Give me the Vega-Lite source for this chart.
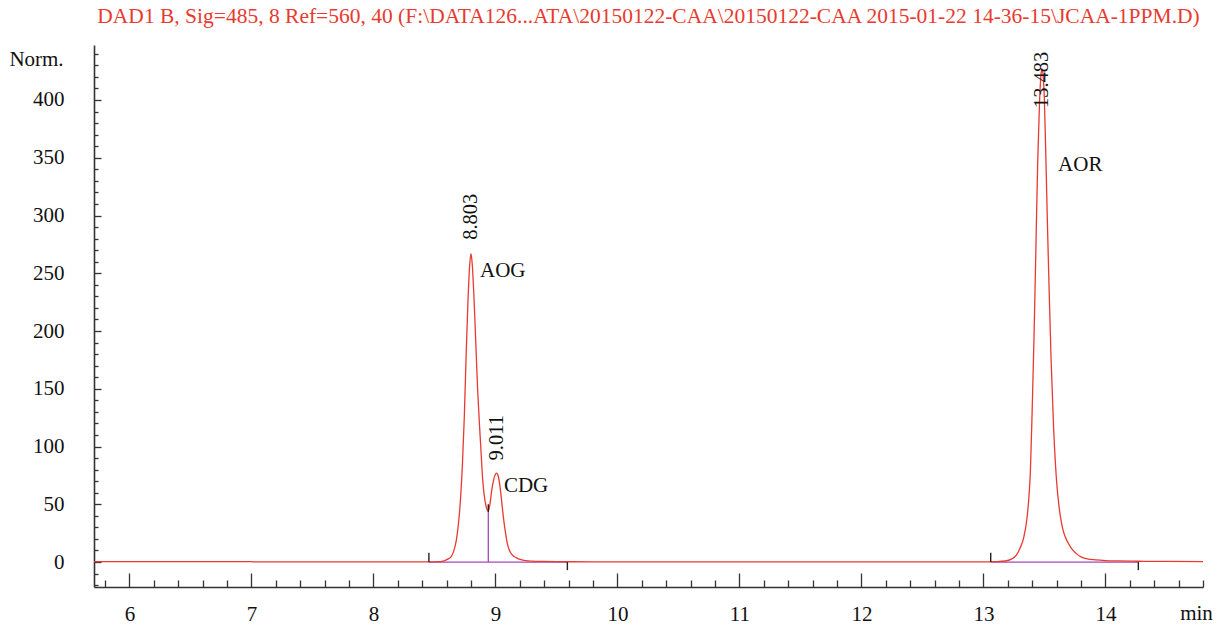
{
  "$schema": "https://vega.github.io/schema/vega-lite/v6.json",
  "width": 1109,
  "height": 542,
  "autosize": {"type": "none"},
  "padding": {"left": 94, "top": 45, "right": 17, "bottom": 39},
  "background": "white",
  "config": {
    "view": {"stroke": null},
    "font": "Liberation Serif",
    "axis": {"labelFont": "Liberation Serif", "titleFont": "Liberation Serif"},
    "text": {"font": "Liberation Serif"}
  },
  "title": {
    "text": "DAD1 B, Sig=485, 8 Ref=560, 40 (F:\\DATA126...ATA\\20150122-CAA\\20150122-CAA 2015-01-22 14-36-15\\JCAA-1PPM.D)",
    "color": "#e83a30",
    "font": "Liberation Serif",
    "fontSize": 21.5,
    "fontWeight": "normal",
    "anchor": "middle",
    "offset": 15
  },
  "datasets": {
    "trace": [
      {"t": 5.71, "v": 0.3}, {"t": 6.5, "v": 0.3}, {"t": 7.0, "v": 0.3}, {"t": 7.02, "v": 0.1},
      {"t": 8.0, "v": 0.1}, {"t": 8.45, "v": 0.1}, {"t": 8.55, "v": 0.4}, {"t": 8.61, "v": 2.5},
      {"t": 8.64, "v": 5}, {"t": 8.657, "v": 9}, {"t": 8.68, "v": 19}, {"t": 8.7, "v": 36},
      {"t": 8.715, "v": 56}, {"t": 8.73, "v": 85}, {"t": 8.745, "v": 125}, {"t": 8.76, "v": 178},
      {"t": 8.775, "v": 225}, {"t": 8.79, "v": 258}, {"t": 8.8, "v": 267}, {"t": 8.81, "v": 258},
      {"t": 8.825, "v": 228}, {"t": 8.84, "v": 188}, {"t": 8.855, "v": 148}, {"t": 8.87, "v": 118},
      {"t": 8.88, "v": 100}, {"t": 8.89, "v": 81}, {"t": 8.9, "v": 66}, {"t": 8.915, "v": 53},
      {"t": 8.93, "v": 46}, {"t": 8.942, "v": 44}, {"t": 8.955, "v": 50}, {"t": 8.97, "v": 62},
      {"t": 8.985, "v": 71}, {"t": 9.0, "v": 76}, {"t": 9.011, "v": 77}, {"t": 9.02, "v": 75.5},
      {"t": 9.03, "v": 71}, {"t": 9.045, "v": 59}, {"t": 9.056, "v": 48}, {"t": 9.07, "v": 35},
      {"t": 9.085, "v": 24}, {"t": 9.1, "v": 15}, {"t": 9.12, "v": 9}, {"t": 9.145, "v": 5.5},
      {"t": 9.17, "v": 3.8}, {"t": 9.21, "v": 2}, {"t": 9.25, "v": 1.2}, {"t": 9.3, "v": 0.8},
      {"t": 9.4, "v": 0.5}, {"t": 9.5, "v": 0.35}, {"t": 9.6, "v": 0.25}, {"t": 10.0, "v": 0.2},
      {"t": 11.0, "v": 0.2}, {"t": 12.0, "v": 0.2}, {"t": 13.0, "v": 0.2}, {"t": 13.1, "v": 0.4},
      {"t": 13.18, "v": 0.9}, {"t": 13.23, "v": 2.5}, {"t": 13.27, "v": 6}, {"t": 13.3, "v": 12},
      {"t": 13.33, "v": 21}, {"t": 13.355, "v": 36}, {"t": 13.37, "v": 52}, {"t": 13.385, "v": 78},
      {"t": 13.4, "v": 132}, {"t": 13.415, "v": 195}, {"t": 13.43, "v": 270}, {"t": 13.445, "v": 346},
      {"t": 13.46, "v": 398}, {"t": 13.472, "v": 422}, {"t": 13.48, "v": 427}, {"t": 13.488, "v": 423},
      {"t": 13.5, "v": 400}, {"t": 13.513, "v": 346}, {"t": 13.525, "v": 292}, {"t": 13.54, "v": 231},
      {"t": 13.555, "v": 175}, {"t": 13.576, "v": 115}, {"t": 13.6, "v": 70}, {"t": 13.62, "v": 48},
      {"t": 13.64, "v": 34}, {"t": 13.66, "v": 25}, {"t": 13.69, "v": 17.5}, {"t": 13.72, "v": 12},
      {"t": 13.76, "v": 7.5}, {"t": 13.8, "v": 4.5}, {"t": 13.85, "v": 2.8}, {"t": 13.92, "v": 1.9},
      {"t": 14.0, "v": 1.3}, {"t": 14.1, "v": 1.0}, {"t": 14.27, "v": 0.7}, {"t": 14.5, "v": 0.5},
      {"t": 14.8, "v": 0.4}
    ],
    "baselines": [
      {"t": 8.455, "t2": 9.59, "v": 0},
      {"t": 13.06, "t2": 14.27, "v": 0}
    ],
    "drops": [
      {"t": 8.942, "v": 0, "v2": 43}
    ],
    "events": [
      {"t": 8.455, "v": 0, "v2": 8},
      {"t": 9.59, "v": -7, "v2": 0},
      {"t": 8.942, "v": 43, "v2": 50},
      {"t": 13.06, "v": 0, "v2": 8},
      {"t": 14.27, "v": -7, "v2": 0}
    ],
    "rtlabels": [
      {"t": 8.803, "v": 279, "label": "8.803"},
      {"t": 9.011, "v": 88, "label": "9.011"},
      {"t": 13.483, "v": 393, "label": "13.483"}
    ],
    "names": [
      {"t": 8.874, "v": 252, "name": "AOG"},
      {"t": 9.07, "v": 66, "name": "CDG"},
      {"t": 13.612, "v": 344, "name": "AOR"}
    ]
  },
  "encoding": {
    "x": {
      "field": "t", "type": "quantitative",
      "scale": {"domain": [5.71, 14.8], "nice": false, "zero": false},
      "axis": {
        "values": [5.8, 6, 6.2, 6.4, 6.6, 6.8, 7, 7.2, 7.4, 7.6, 7.8, 8, 8.2, 8.4, 8.6, 8.8, 9, 9.2, 9.4, 9.6, 9.8, 10, 10.2, 10.4, 10.6, 10.8, 11, 11.2, 11.4, 11.6, 11.8, 12, 12.2, 12.4, 12.6, 12.8, 13, 13.2, 13.4, 13.6, 13.8, 14, 14.2, 14.4, 14.6, 14.8],
        "labelExpr": "datum.value % 1 === 0 ? format(datum.value, 'd') : ''",
        "tickSize": -14,
        "tickDash": {"condition": {"test": "datum.value % 1 !== 0", "value": [7, 40]}, "value": []},
        "labelPadding": 30,
        "labelFont": "Liberation Serif", "labelFontSize": 21, "labelColor": "#111",
        "labelOverlap": false, "labelFlush": false, "labelBound": false,
        "tickColor": "#333", "tickWidth": 1.3, "domainColor": "#333", "domainWidth": 1.6,
        "grid": false,
        "title": "min", "titleX": 1102, "titleY": 32, "titleAlign": "center", "titleBaseline": "alphabetic",
        "titleFont": "Liberation Serif", "titleFontSize": 21, "titleFontWeight": "normal", "titleColor": "#111"
      }
    },
    "y": {
      "field": "v", "type": "quantitative",
      "scale": {"domain": [-21.6, 447.6], "nice": false, "zero": false},
      "axis": {
        "values": [-20, -10, 0, 10, 20, 30, 40, 50, 60, 70, 80, 90, 100, 110, 120, 130, 140, 150, 160, 170, 180, 190, 200, 210, 220, 230, 240, 250, 260, 270, 280, 290, 300, 310, 320, 330, 340, 350, 360, 370, 380, 390, 400, 410, 420, 430, 440],
        "labelExpr": "datum.value % 50 === 0 && datum.value >= 0 ? format(datum.value, 'd') : ''",
        "tickSize": -7,
        "tickDash": {"condition": {"test": "datum.value % 50 !== 0", "value": [4, 30]}, "value": []},
        "labelPadding": 37,
        "labelFont": "Liberation Serif", "labelFontSize": 21, "labelColor": "#111",
        "labelOverlap": false, "labelFlush": false, "labelBound": false,
        "tickColor": "#333", "tickWidth": 1.3, "domainColor": "#333", "domainWidth": 1.6,
        "grid": false,
        "title": "Norm.", "titleAngle": 0, "titleX": -58, "titleY": 14, "titleAlign": "center", "titleBaseline": "middle",
        "titleFont": "Liberation Serif", "titleFontSize": 21, "titleFontWeight": "normal", "titleColor": "#111"
      }
    }
  },
  "layer": [
    {
      "data": {"name": "baselines"},
      "mark": {"type": "rule", "color": "#a548b8", "strokeWidth": 1.3},
      "encoding": {"x2": {"field": "t2"}}
    },
    {
      "data": {"name": "drops"},
      "mark": {"type": "rule", "color": "#a548b8", "strokeWidth": 1.3},
      "encoding": {"y2": {"field": "v2"}}
    },
    {
      "data": {"name": "trace"},
      "mark": {"type": "line", "color": "#e83a30", "strokeWidth": 1.3, "interpolate": "monotone"},
      "encoding": {}
    },
    {
      "data": {"name": "events"},
      "mark": {"type": "rule", "color": "#222", "strokeWidth": 1.4},
      "encoding": {"y2": {"field": "v2"}}
    },
    {
      "data": {"name": "rtlabels"},
      "mark": {"type": "text", "angle": 270, "align": "left", "baseline": "middle", "font": "Liberation Serif", "fontSize": 20.5, "color": "#111"},
      "encoding": {"text": {"field": "label"}}
    },
    {
      "data": {"name": "names"},
      "mark": {"type": "text", "align": "left", "baseline": "middle", "font": "Liberation Serif", "fontSize": 21, "color": "#111"},
      "encoding": {"text": {"field": "name"}}
    }
  ]
}
